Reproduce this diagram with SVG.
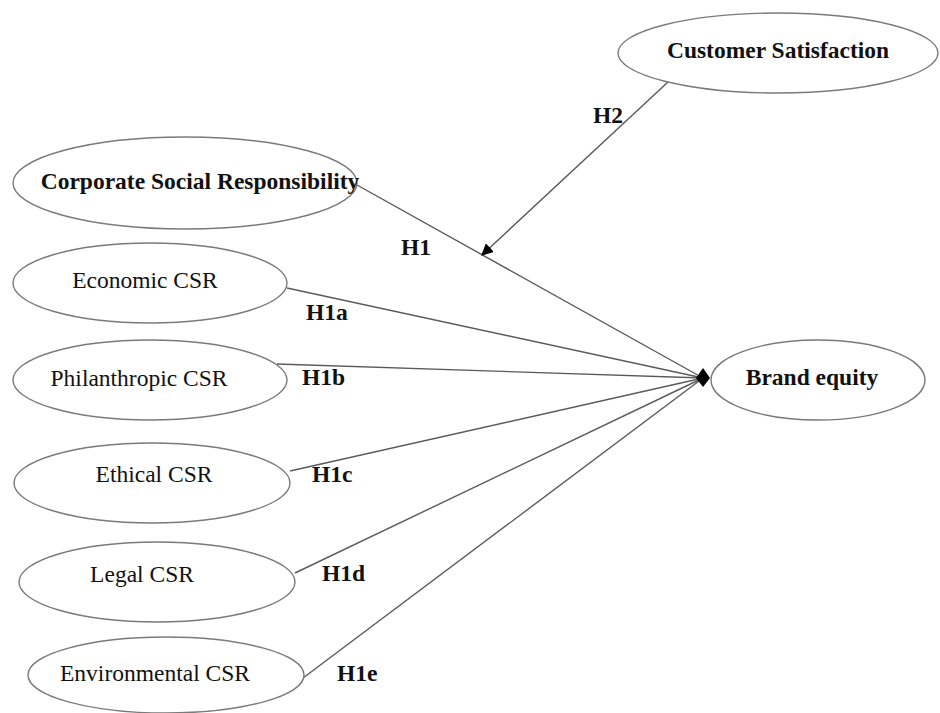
<svg xmlns="http://www.w3.org/2000/svg" width="940" height="713" viewBox="0 0 940 713">
<style>
.node ellipse{fill:#fff;stroke:#7a7a7a;stroke-width:1.4}
text{font-family:"Liberation Serif","Times New Roman",serif;font-size:23.5px;fill:#111}
.b{font-weight:bold}
.c{text-anchor:middle}
.edge{stroke:#5a5a5a;stroke-width:1.4;fill:none}
</style>
<defs>
<marker id="arr" viewBox="0 0 10 10" refX="9" refY="5" markerWidth="12" markerHeight="12" markerUnits="userSpaceOnUse" orient="auto">
<path d="M0,0 L10,5 L0,10 z" fill="#000"/>
</marker>
</defs>
<rect width="940" height="713" fill="#fff"/>
<g id="connectors">
<line class="edge" x1="357" y1="185" x2="703" y2="378"/>
<line class="edge" x1="287" y1="288" x2="703" y2="378"/>
<line class="edge" x1="277" y1="364" x2="703" y2="378"/>
<line class="edge" x1="290" y1="471" x2="703" y2="378"/>
<line class="edge" x1="295" y1="573" x2="703" y2="378"/>
<line class="edge" x1="303" y1="678" x2="703" y2="378"/>
<line class="edge" x1="668" y1="82" x2="482" y2="255" marker-end="url(#arr)"/>
<polygon points="696,378 703,368 710,378 703,387" fill="#000"/>
<text class="b" x="401" y="255">H1</text>
<text class="b" x="593" y="123">H2</text>
<text class="b" x="306" y="320">H1a</text>
<text class="b" x="302" y="385">H1b</text>
<text class="b" x="312" y="482">H1c</text>
<text class="b" x="322" y="581">H1d</text>
<text class="b" x="337" y="681">H1e</text>
</g>
<g id="customer-satisfaction" class="node">
<ellipse cx="778" cy="53" rx="160" ry="40"/>
<text class="b c" x="778" y="58">Customer Satisfaction</text>
</g>
<g id="csr" class="node">
<ellipse cx="185" cy="183" rx="172" ry="46"/>
<text class="b c" x="200" y="189">Corporate Social Responsibility</text>
</g>
<g id="brand-equity" class="node">
<ellipse cx="818" cy="380" rx="107" ry="40"/>
<text class="b c" x="812" y="385">Brand equity</text>
</g>
<g id="economic-csr" class="node">
<ellipse cx="150" cy="283" rx="137" ry="40"/>
<text class="c" x="145" y="288">Economic CSR</text>
</g>
<g id="philanthropic-csr" class="node">
<ellipse cx="150" cy="380" rx="137" ry="40"/>
<text class="c" x="139" y="386">Philanthropic CSR</text>
</g>
<g id="ethical-csr" class="node">
<ellipse cx="152" cy="483" rx="138" ry="40"/>
<text class="c" x="154" y="482">Ethical CSR</text>
</g>
<g id="legal-csr" class="node">
<ellipse cx="157" cy="582" rx="138" ry="40"/>
<text class="c" x="142" y="582">Legal CSR</text>
</g>
<g id="environmental-csr" class="node">
<ellipse cx="166" cy="675" rx="138" ry="38"/>
<text class="c" x="155" y="681">Environmental CSR</text>
</g>
</svg>
